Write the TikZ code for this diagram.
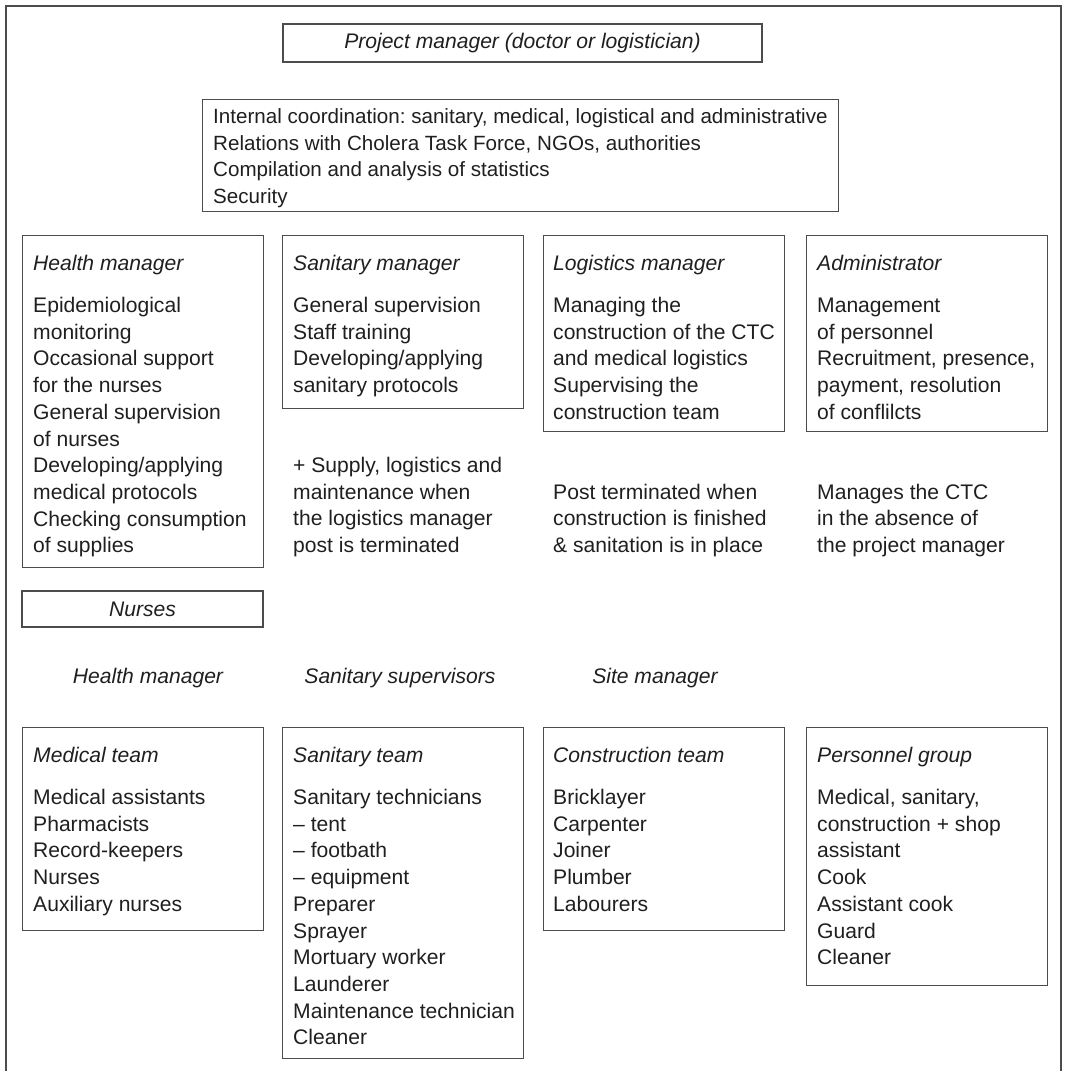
\documentclass[tikz,border=0pt]{standalone}
\usepackage{fontspec}
\setmainfont{Liberation Sans}
\frenchspacing
\newcommand\itemlist[4]{\foreach \t [count=\i] in {#4}{\node[txt] (#1-\i) at (#2,{#3+(\i-1)*26.7}) {\t};}}
\tikzset{
  boxst/.style={draw=black!70, line width=1.1pt, inner sep=0pt, anchor=north west},
  txt/.style={anchor=base west, inner sep=0pt, text=black!88, font=\fontsize{21.1}{26}\selectfont},
  cotxt/.style={txt, font=\fontsize{20.6}{26}\selectfont},
  ttl/.style={txt, font=\fontsize{21.1}{26}\selectfont\itshape},
  lbl/.style={ttl, anchor=base},
  framest/.style={draw=black!70, line width=1.1pt},
}
\begin{document}
\begin{tikzpicture}[x=1pt,y=-1pt]
\useasboundingbox (0,0) rectangle (1065,1071);
% outer frame, open at the bottom
\draw[framest] (6,1071) -- (6,6) -- (1061,6) -- (1061,1071);

% project manager
\node[boxst, anchor=center, minimum width=479pt, minimum height=38pt, text=black!88,
      font=\fontsize{21.1}{26}\selectfont\itshape] (pm) at (522.5,43) {Project manager (doctor or logistician)};

% coordination
\node[boxst, minimum width=636pt, minimum height=112pt] (coord) at (202,99) {};
\node[cotxt] (co-1) at (213,123.5) {Internal coordination: sanitary, medical, logistical and administrative};
\node[cotxt] (co-2) at (213,150.2) {Relations with Cholera Task Force, NGOs, authorities};
\node[cotxt] (co-3) at (213,176.9) {Compilation and analysis of statistics};
\node[cotxt] (co-4) at (213,203.6) {Security};

% row 1
\node[boxst, minimum width=241pt, minimum height=332pt] (hm) at (22,235) {};
\node[ttl] (hmT) at (33,270.5) {Health manager};
\itemlist{hmI}{33}{312.5}{Epidemiological,monitoring,Occasional support,for the nurses,General supervision,of nurses,Developing/applying,medical protocols,Checking consumption,of supplies}

\node[boxst, minimum width=241pt, minimum height=173pt] (sm) at (282,235) {};
\node[ttl] (smT) at (293,270.5) {Sanitary manager};
\itemlist{smI}{293}{312.5}{General supervision,Staff training,Developing/applying,sanitary protocols}

\node[boxst, minimum width=241pt, minimum height=196pt] (lm) at (543,235) {};
\node[ttl] (lmT) at (553,270.5) {Logistics manager};
\itemlist{lmI}{553}{312.5}{Managing the,construction of the CTC,and medical logistics,Supervising the,construction team}

\node[boxst, minimum width=241pt, minimum height=196pt] (ad) at (806,235) {};
\node[ttl] (adT) at (817,270.5) {Administrator};
\itemlist{adI}{817}{312.5}{Management,of personnel,{Recruitment, presence,},{payment, resolution},of conflilcts}

% notes
\itemlist{smN}{293}{472.5}{{+ Supply, logistics and},maintenance when,the logistics manager,post is terminated}
\itemlist{lmN}{553}{499.2}{Post terminated when,construction is finished,\& sanitation is in place}
\itemlist{adN}{817}{499.2}{Manages the CTC,in the absence of,the project manager}

% nurses
\node[boxst, anchor=center, minimum width=241pt, minimum height=36pt, text=black!88,
      font=\fontsize{21.1}{26}\selectfont\itshape] (nu) at (142.5,609) {Nurses};

% supervisors labels
\node[lbl] (l1) at (148,683.5) {Health manager};
\node[lbl] (l2) at (400,683.5) {Sanitary supervisors};
\node[lbl] (l3) at (655,683.5) {Site manager};

% row 2
\node[boxst, minimum width=241pt, minimum height=203pt] (mt) at (22,727) {};
\node[ttl] (mtT) at (33,762.5) {Medical team};
\itemlist{mtI}{33}{804.5}{Medical assistants,Pharmacists,Record-keepers,Nurses,Auxiliary nurses}

\node[boxst, minimum width=241pt, minimum height=331pt] (st) at (282,727) {};
\node[ttl] (stT) at (293,762.5) {Sanitary team};
\itemlist{stI}{293}{804.5}{Sanitary technicians,{-- tent},{-- footbath},{-- equipment},Preparer,Sprayer,Mortuary worker,Launderer,Maintenance technician,Cleaner}

\node[boxst, minimum width=241pt, minimum height=203pt] (ct) at (543,727) {};
\node[ttl] (ctT) at (553,762.5) {Construction team};
\itemlist{ctI}{553}{804.5}{Bricklayer,Carpenter,Joiner,Plumber,Labourers}

\node[boxst, minimum width=241pt, minimum height=258pt] (pg) at (806,727) {};
\node[ttl] (pgT) at (817,762.5) {Personnel group};
\itemlist{pgI}{817}{804.5}{{Medical, sanitary,},{construction + shop},assistant,Cook,Assistant cook,Guard,Cleaner}
\end{tikzpicture}
\end{document}
